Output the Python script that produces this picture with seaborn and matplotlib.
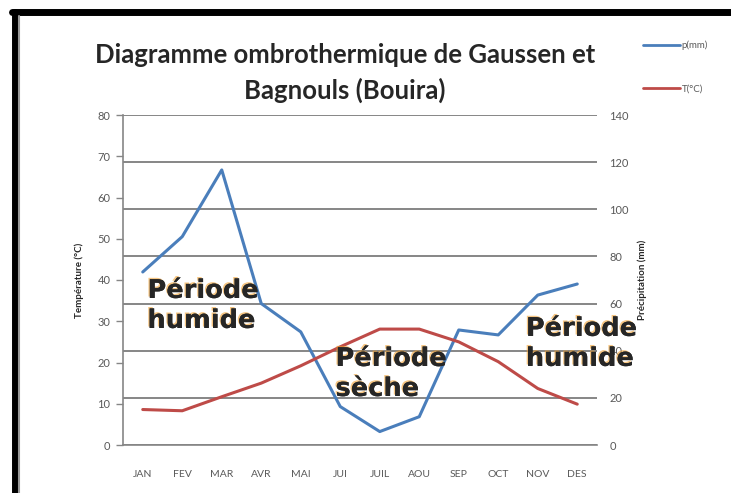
import matplotlib
matplotlib.use('Agg')
import numpy as np
import pandas as pd
import matplotlib.pyplot as plt
import matplotlib.patheffects as pe
from matplotlib.lines import Line2D
import seaborn as sns

# Monthly climate data (Bouira)
months = ['JAN', 'FEV', 'MAR', 'AVR', 'MAI', 'JUI', 'JUIL', 'AOU', 'SEP', 'OCT', 'NOV', 'DES']
precip_mm = [73.4, 88.4, 116.7, 60.0, 48.0, 16.3, 5.7, 12.0, 48.8, 46.7, 63.6, 68.3]
temp_c = [8.6, 8.3, 11.7, 15.0, 19.2, 23.8, 28.1, 28.1, 25.0, 20.2, 13.7, 9.9]

temp_ticks = list(range(0, 81, 10))
precip_ticks = list(range(0, 141, 20))

df = pd.DataFrame({'pos': np.arange(len(months)), 'mois': months,
                   'p': precip_mm, 'T': temp_c})

blue = '#4A7EBB'
red = '#BE4B48'
grey = '#868686'
label_grey = '#595959'

sns.set_style('white')
plt.rcParams['font.family'] = ['Lato', 'DejaVu Sans']

fig = plt.figure(figsize=(7.31, 4.93), dpi=100)
rect = [123 / 731, 1 - 445 / 493, 474 / 731, 330 / 493]
ax_t = fig.add_axes(rect)
ax_p = ax_t.twinx()
ax_p.set_zorder(ax_t.get_zorder() - 1)
ax_t.patch.set_visible(False)

# precipitation (secondary axis, right) with its gridlines
sns.lineplot(data=df, x='pos', y='p', ax=ax_p, color=blue, lw=2.2, label='p(mm)', legend=False)
ax_p.set_ylim(0, 140)
ax_p.set_yticks(precip_ticks)
ax_p.grid(axis='y', color=grey, lw=1.4)
ax_p.tick_params(axis='y', length=0, pad=9, labelsize=8, labelcolor=label_grey)
ax_p.set_ylabel('Précipitation (mm)', fontsize=7, fontweight='bold', labelpad=6)
for s in ax_p.spines.values():
    s.set_visible(False)

# temperature (primary axis, left)
sns.lineplot(data=df, x='pos', y='T', ax=ax_t, color=red, lw=2.2, label='T(°C)', legend=False)
ax_t.set_ylim(0, 80)
ax_t.set_yticks(temp_ticks)
ax_t.tick_params(axis='y', length=5, width=1, color=grey, pad=4, labelsize=8, labelcolor=label_grey)
ax_t.set_ylabel('Température (°C)', fontsize=7, fontweight='bold', labelpad=10)

ax_t.set_xlim(-0.5, len(months) - 0.5)
ax_t.set_xticks(df['pos'])
ax_t.set_xticklabels(months)
ax_t.set_xticks(np.arange(-0.5, len(months)), minor=True)
ax_t.tick_params(axis='x', which='major', length=0, pad=18, labelsize=7.5, labelcolor=label_grey)
ax_t.tick_params(axis='x', which='minor', length=5, width=1, color=grey, direction='out')
ax_t.set_xlabel('')
ax_p.set_xlabel('')
for side in ['top', 'right']:
    ax_t.spines[side].set_visible(False)
for side in ['left', 'bottom']:
    ax_t.spines[side].set_color(grey)
    ax_t.spines[side].set_linewidth(1.2)

# period annotations
fx = [pe.withSimplePatchShadow(offset=(-1, 1), shadow_rgbFace='#f0a030', alpha=0.6), pe.Normal()]
notes = [(0.12, 40.5, 'Période\nhumide'), (4.88, 24.0, 'Période\nsèche'), (9.7, 31.3, 'Période\nhumide')]
for x, y, txt in notes:
    ax_t.text(x, y, txt, ha='left', va='top', fontsize=18.5, fontweight='bold',
              family=['DejaVu Sans'], linespacing=1.2, path_effects=fx, zorder=5)

fig.text(345 / 731, 1 - 73 / 493, 'Diagramme ombrothermique de Gaussen et\nBagnouls (Bouira)',
         ha='center', va='center', fontsize=18.5, fontweight='bold', color='#262626', linespacing=1.5)

handles = [Line2D([], [], color=blue, lw=2), Line2D([], [], color=red, lw=2)]
fig.legend(handles, ['p(mm)', 'T(°C)'], loc='center left', bbox_to_anchor=(638 / 731, 1 - 67 / 493),
           frameon=False, fontsize=7, labelspacing=3.5, handlelength=3.8, handletextpad=0.2,
           borderpad=0, labelcolor=label_grey)

# frame drawn around the chart picture
fig.add_artist(Line2D([15 / 731, 15 / 731], [0, 1 - 12 / 493], color='black', lw=5, transform=fig.transFigure))
fig.add_artist(Line2D([12 / 731, 1], [1 - 12 / 493, 1 - 12 / 493], color='black', lw=5, transform=fig.transFigure))
fig.add_artist(Line2D([19 / 731, 19 / 731], [0, 1 - 16 / 493], color='#9a9a9a', lw=1.5, transform=fig.transFigure))

fig.savefig('out.png', dpi=100)
